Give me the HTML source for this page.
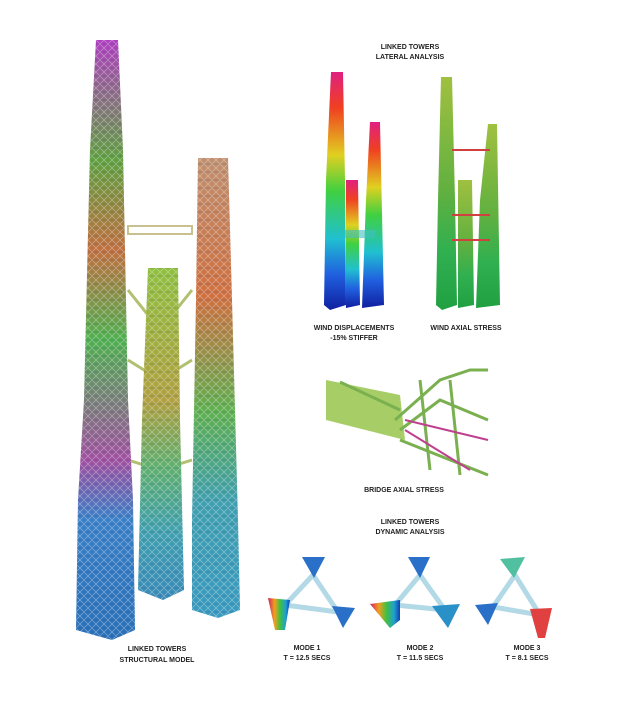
<html><head><style>body{margin:0;background:#fff}svg{display:block}text{font-family:"Liberation Sans",sans-serif;font-weight:bold;font-size:7px;fill:#222;text-anchor:middle}</style></head><body>
<svg width="640" height="707" viewBox="0 0 640 707">
<defs>
<pattern id="lat" width="8" height="8" patternUnits="userSpaceOnUse"><path d="M0 0 L8 8 M8 0 L0 8" stroke="#ffffff" stroke-width="0.6" opacity=".45"/><path d="M0 4 H8" stroke="#203060" stroke-width="0.5" opacity=".3"/></pattern>
<linearGradient id="lt" x1="0" y1="0" x2="0" y2="1"><stop offset="0" stop-color="#b040c0"/><stop offset=".2" stop-color="#60a040"/><stop offset=".35" stop-color="#c07040"/><stop offset=".5" stop-color="#50b050"/><stop offset=".7" stop-color="#a050a0"/><stop offset=".8" stop-color="#3a80c8"/><stop offset="1" stop-color="#2a70b8"/></linearGradient>
<linearGradient id="rt" x1="0" y1="0" x2="0" y2="1"><stop offset="0" stop-color="#c09070"/><stop offset=".3" stop-color="#d07040"/><stop offset=".55" stop-color="#60b050"/><stop offset=".75" stop-color="#40a0b0"/><stop offset="1" stop-color="#3a9ac0"/></linearGradient>
<linearGradient id="mt" x1="0" y1="0" x2="0" y2="1"><stop offset="0" stop-color="#90c040"/><stop offset=".4" stop-color="#b0a040"/><stop offset=".6" stop-color="#60b070"/><stop offset=".8" stop-color="#40a0b0"/><stop offset="1" stop-color="#3a8ab8"/></linearGradient>
<linearGradient id="wd" x1="0" y1="0" x2="0" y2="1"><stop offset="0" stop-color="#e02080"/><stop offset=".15" stop-color="#f04020"/><stop offset=".35" stop-color="#e0d020"/><stop offset=".5" stop-color="#40d040"/><stop offset=".7" stop-color="#20c0d0"/><stop offset=".85" stop-color="#2060e0"/><stop offset="1" stop-color="#1020a0"/></linearGradient>
<linearGradient id="wa" x1="0" y1="0" x2="0" y2="1"><stop offset="0" stop-color="#a0c040"/><stop offset=".5" stop-color="#60b040"/><stop offset=".75" stop-color="#30b050"/><stop offset="1" stop-color="#20a040"/></linearGradient>
<linearGradient id="md" x1="0" y1="0" x2="1" y2="0"><stop offset="0" stop-color="#d02060"/><stop offset=".3" stop-color="#f0a020"/><stop offset=".55" stop-color="#40c040"/><stop offset=".8" stop-color="#20a0d0"/><stop offset="1" stop-color="#1040b0"/></linearGradient>
</defs>
<rect x="128" y="226" width="64" height="8" fill="none" stroke="#c8c090" stroke-width="2"/>
<path d="M128 290 L160 330 L192 290 M128 360 L160 380 L192 360 M128 460 L160 470 L192 460" stroke="#b0c070" stroke-width="3" fill="none"/>
<polygon points="96,40 118,40 123,150 128,400 133,500 135,630 112,640 76,630 78,500 84,400 90,150" fill="url(#lt)"/>
<polygon points="96,40 118,40 123,150 128,400 133,500 135,630 112,640 76,630 78,500 84,400 90,150" fill="url(#lat)"/>
<polygon points="198,158 228,158 232,300 238,520 240,610 218,618 192,610 192,520 196,300" fill="url(#rt)"/>
<polygon points="198,158 228,158 232,300 238,520 240,610 218,618 192,610 192,520 196,300" fill="url(#lat)"/>
<polygon points="148,268 178,268 180,420 184,590 163,600 138,590 142,420" fill="url(#mt)"/>
<polygon points="148,268 178,268 180,420 184,590 163,600 138,590 142,420" fill="url(#lat)"/>
<text x="157" y="651">LINKED TOWERS</text><text x="157" y="662">STRUCTURAL MODEL</text>
<text x="410" y="49">LINKED TOWERS</text><text x="410" y="59">LATERAL ANALYSIS</text>
<polygon points="331,72 343,72 345,180 346,305 330,310 324,305 326,180" fill="url(#wd)"/>
<polygon points="346,180 358,180 360,305 346,308" fill="url(#wd)"/>
<polygon points="370,122 380,122 384,305 362,308 366,200" fill="url(#wd)"/>
<rect x="345" y="230" width="30" height="8" fill="#40c0c0" opacity=".6"/>
<text x="354" y="330">WIND DISPLACEMENTS</text><text x="354" y="340">-15% STIFFER</text>
<polygon points="441,77 452,77 455,200 457,305 442,310 436,305 438,200" fill="url(#wa)"/>
<polygon points="458,180 472,180 474,305 458,308" fill="url(#wa)"/>
<polygon points="488,124 497,124 500,305 476,308 480,200" fill="url(#wa)"/>
<path d="M452 150 L490 150 M452 240 L490 240 M452 215 L490 215" stroke="#d04040" stroke-width="2"/>
<text x="466" y="330">WIND AXIAL STRESS</text>
<polygon points="326,380 400,395 405,440 326,420" fill="#90c040" opacity=".8"/>
<path d="M395 420 L440 380 L470 370 L488 370 M400 430 L440 400 L488 420 M400 440 L488 475 M420 380 L430 470 M450 380 L460 475 M340 382 L400 410" stroke="#7ab050" stroke-width="3" fill="none"/>
<path d="M405 420 L488 440 M405 430 L470 470" stroke="#c04090" stroke-width="2"/>
<text x="404" y="492">BRIDGE AXIAL STRESS</text>
<text x="410" y="524">LINKED TOWERS</text><text x="410" y="534">DYNAMIC ANALYSIS</text>
<g fill="none" stroke="#a0d0e0" stroke-width="5" opacity=".8">
<path d="M313 575 L285 605 L338 612 Z"/><path d="M420 575 L395 605 L445 610 Z"/><path d="M515 575 L493 607 L540 615 Z"/></g>
<g fill="#2a70c8">
<path d="M302 557 L325 557 L314 578 Z"/><path d="M332 606 L355 608 L343 628 Z"/>
<path d="M408 557 L430 557 L420 578 Z"/>
<path d="M500 559 L525 557 L514 578 Z" fill="#50c0a0"/><path d="M475 605 L498 603 L488 625 Z"/>
</g>
<path d="M268 598 L290 600 L285 630 L275 630 Z" fill="url(#md)"/>
<path d="M370 604 L400 600 L400 620 L390 628 Z" fill="url(#md)"/>
<path d="M432 606 L460 604 L448 628 Z" fill="#2a90c8"/>
<path d="M530 609 L552 608 L545 638 L538 638 Z" fill="#e04040"/>
<text x="307" y="650">MODE 1</text><text x="307" y="660">T = 12.5 SECS</text>
<text x="420" y="650">MODE 2</text><text x="420" y="660">T = 11.5 SECS</text>
<text x="527" y="650">MODE 3</text><text x="527" y="660">T = 8.1 SECS</text>
</svg></body></html>
